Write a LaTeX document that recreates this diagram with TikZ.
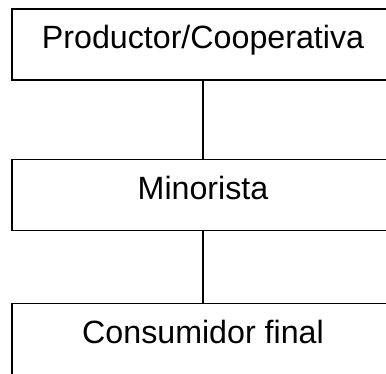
\documentclass[tikz,border=0pt]{standalone}
\usepackage{fontspec}
\setmainfont{Liberation Sans}
\tikzset{
	eslabon/.style={draw, line width=1.6pt, minimum width=382pt, minimum height=71pt, inner sep=0pt, text height=24pt, text depth=15pt, font=\fontsize{32.2}{36}\selectfont},
	enlace/.style={line width=1.6pt}
}
\begin{document}
	\begin{tikzpicture}[x=1pt,y=1pt]
		\useasboundingbox (0,0) rectangle (386,374);
		\clip (0,0) rectangle (386,374);
		\node[eslabon] (productor) at (203,329.5) {Productor/Cooperativa};
		\node[eslabon] (minorista) at (203,179) {Minorista};
		\node[eslabon] (consumidor) at (203,35) {Consumidor final};
		\draw[enlace] (productor) -- (minorista);
		\draw[enlace] (minorista) -- (consumidor);
	\end{tikzpicture}
\end{document}
